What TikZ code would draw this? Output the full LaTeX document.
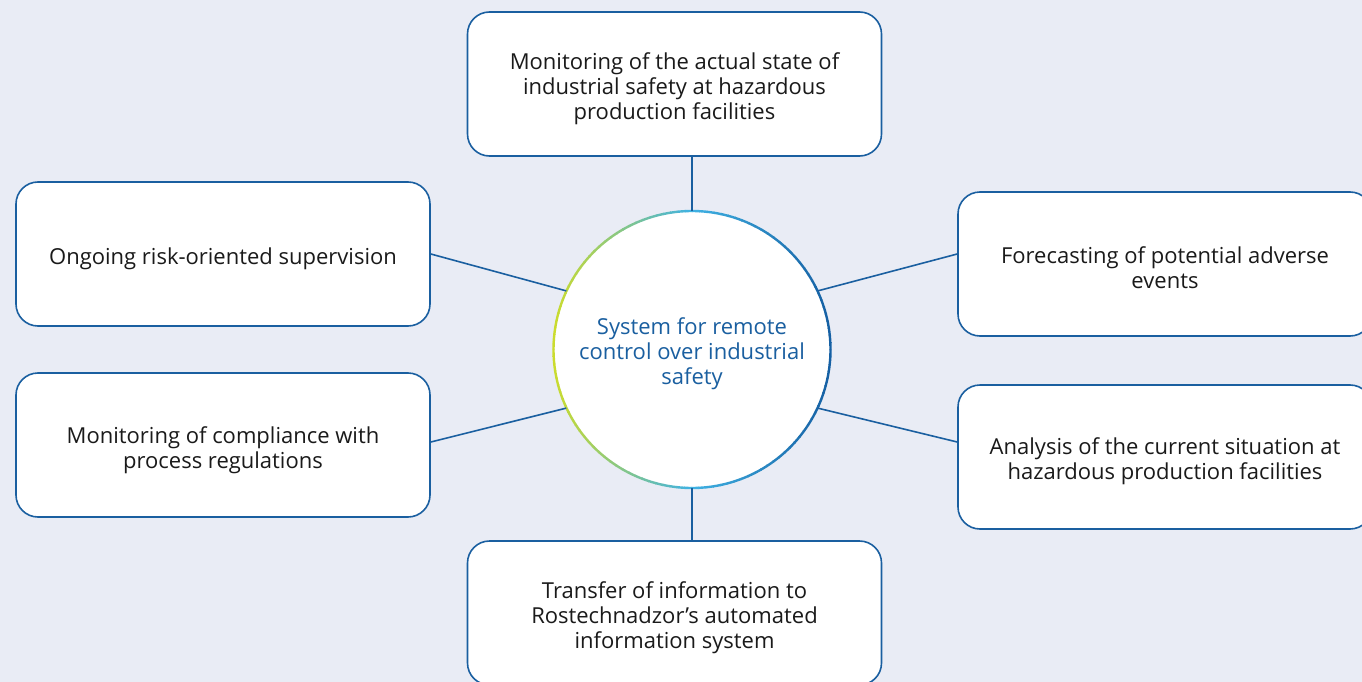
\documentclass[tikz,border=0pt]{standalone}
\usepackage{fontspec}
\setmainfont{Open Sans}
\begin{document}
\definecolor{bgcol}{HTML}{E9ECF5}
\definecolor{edgeblue}{HTML}{1A5FA0}
\definecolor{txtcol}{HTML}{1A1A1A}
\definecolor{ringlime}{HTML}{CCDC2C}
\definecolor{ringcyan}{HTML}{40B2E3}
\definecolor{ringblue}{HTML}{155FA3}
\begin{tikzpicture}[x=1pt,y=-1pt,
  infobox/.style={draw=edgeblue, line width=1.6pt, fill=white, rounded corners=22pt,
    minimum width=414pt, minimum height=144pt, inner sep=0pt},
  boxtext/.style={align=center, text=txtcol, inner sep=0pt,
    font=\fontsize{22}{25.2}\selectfont},
  link/.style={draw=edgeblue, line width=1.6pt}]
  \useasboundingbox (0,0) rectangle (1362,682);
  \fill[bgcol] (0,0) rectangle (1362,682);

  % central disc
  \coordinate (cc) at (692,349.5);
  \node[circle, fill=white, minimum size=277pt, inner sep=0pt] (c) at (cc) {};
  \node[boxtext, text=edgeblue] (ct) at ([yshift=-4pt]c.center)
    {System for remote\\control over industrial\\safety};

  % ring: lime on the left, cyan in the middle, blue on the right
  \foreach \a in {0,3,...,357} {
    \pgfmathsetmacro\cx{cos(\a+1.5)}
    \pgfmathtruncatemacro\p{100*abs(\cx)}
    \ifdim\cx pt<0pt
      \colorlet{seg}{ringlime!\p!ringcyan}
    \else
      \colorlet{seg}{ringblue!\p!ringcyan}
    \fi
    \draw[seg, line width=2.4pt] (cc) ++(\a:138.5)
      arc[start angle=\a, end angle=\a+3.3, radius=138.5];
  }

  % surrounding boxes
  \node[infobox] (top) at (674.5,84) {};
  \node[infobox] (lt) at (223,254) {};
  \node[infobox] (lb) at (223,445) {};
  \node[infobox] (rt) at (1165,264) {};
  \node[infobox] (rb) at (1165,457) {};
  \node[infobox] (bot) at (674.5,613) {};

  % box labels
  \node[boxtext] (top-t) at ([yshift=-5pt]top.center) {Monitoring of the actual state of\\industrial safety at hazardous\\production facilities};
  \node[boxtext] (lt-t) at ([yshift=-5pt]lt.center) {Ongoing risk-oriented supervision};
  \node[boxtext] (lb-t) at ([yshift=-5pt]lb.center) {Monitoring of compliance with\\process regulations};
  \node[boxtext] (rt-t) at ([yshift=-4pt]rt.center) {Forecasting of potential adverse\\events};
  \node[boxtext] (rb-t) at ([yshift=-4pt]rb.center) {Analysis of the current situation at\\hazardous production facilities};
  \node[boxtext] (bot-t) at ([yshift=-5pt]bot.center) {Transfer of information to\\Rostechnadzor’s automated\\information system};

  % connectors
  \draw[link] (top.south -| cc) -- (c.north);
  \draw[link] (bot.north -| cc) -- (c.south);
  \draw[link] (lt.east) -- (c.155);
  \draw[link] ([yshift=3pt]lb.east) -- (c.205);
  \draw[link] ([yshift=10pt]rt.west) -- (c.25);
  \draw[link] ([yshift=15pt]rb.west) -- (c.-25);
\end{tikzpicture}
\end{document}
